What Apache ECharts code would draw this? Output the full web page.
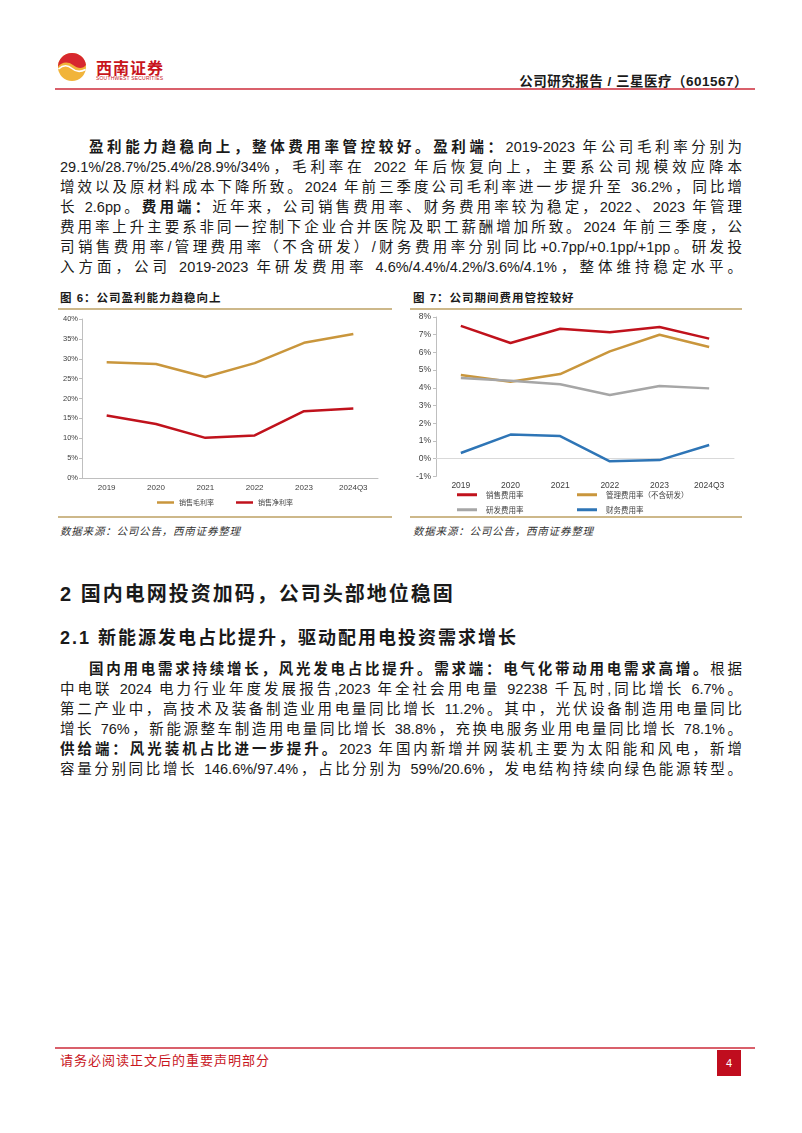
<!DOCTYPE html>
<html>
<head>
<meta charset="utf-8">
<script src="https://cdn.jsdelivr.net/npm/echarts@6/dist/echarts.min.js"></script>
<style>
  html, body { margin: 0; padding: 0; background: #fff; }
  body { width: 802px; height: 1133px; position: relative; overflow: hidden;
         font-family: "Liberation Sans", "Noto Sans CJK SC", sans-serif; color: #1a1a1a; }
  .abs { position: absolute; }
  .rule { position: absolute; height: 2px; background: #d9606b; }
  .tan { position: absolute; height: 1.5px; background: #cdb88a; }
  .para { position: absolute; left: 60px; width: 682px; font-size: 14.5px; line-height: 20px; }
  .para div { text-align: justify; text-align-last: justify; white-space: nowrap; }
  .para .ind { padding-left: 29px; }
  b { font-weight: bold; }
  .cap { font-size: 11.5px; font-weight: bold; letter-spacing: 1px; }
  .src { font-size: 10.5px; font-style: italic; color: #333; letter-spacing: 0.8px; }
  .h1 { font-size: 20px; font-weight: bold; letter-spacing: 2px; }
  .h2 { font-size: 18px; font-weight: bold; letter-spacing: 2px; }
</style>
</head>
<body>

<!-- header -->
<svg class="abs" style="left:57px;top:52px" width="30" height="30" viewBox="0 0 30 30">
  <circle cx="15" cy="15" r="14" fill="#f1b43a"/>
  <path d="M15 1 A14 14 0 0 0 1 15 C4 10 11 9 16 13 C21 17 26 17 29 13 A14 14 0 0 0 15 1 Z" fill="#d7282f"/>
  <path d="M1.5 17 C6 13 11 13 15 16.5 C19 20 24 20 28.6 17.5" stroke="#fff" stroke-width="1.6" fill="none"/>
</svg>
<div class="abs" style="left:96px;top:55px;font-size:16px;font-weight:bold;color:#c8161d;letter-spacing:1px;">西南证券</div>
<div class="abs" style="left:96px;top:75px;font-size:5px;color:#c8161d;letter-spacing:0.2px;">SOUTHWEST SECURITIES</div>
<div class="abs" style="right:54px;top:70px;font-size:13.5px;font-weight:bold;letter-spacing:0.5px;">公司研究报告 / 三星医疗（601567）</div>
<div class="rule" style="left:55px;top:88px;width:700px;"></div>

<!-- paragraph 1 -->
<div class="para" style="top:137px;">
  <div class="ind"><b>盈利能力趋稳向上，整体费用率管控较好。盈利端：</b>2019-2023 年公司毛利率分别为</div>
  <div>29.1%/28.7%/25.4%/28.9%/34%，毛利率在 2022 年后恢复向上，主要系公司规模效应降本</div>
  <div>增效以及原材料成本下降所致。2024 年前三季度公司毛利率进一步提升至 36.2%，同比增</div>
  <div>长 2.6pp。<b>费用端：</b>近年来，公司销售费用率、财务费用率较为稳定，2022、2023 年管理</div>
  <div>费用率上升主要系非同一控制下企业合并医院及职工薪酬增加所致。2024 年前三季度，公</div>
  <div>司销售费用率/管理费用率（不含研发）/财务费用率分别同比+0.7pp/+0.1pp/+1pp。研发投</div>
  <div>入方面，公司 2019-2023 年研发费用率 4.6%/4.4%/4.2%/3.6%/4.1%，整体维持稳定水平。</div>
</div>

<!-- figure captions -->
<div class="abs cap" style="left:60px;top:289px;">图 6：公司盈利能力趋稳向上</div>
<div class="abs cap" style="left:413px;top:289px;">图 7：公司期间费用管控较好</div>
<div class="tan" style="left:58px;top:308px;width:334px;"></div>
<div class="tan" style="left:410px;top:308px;width:332px;"></div>

<div id="chart1" class="abs" style="left:58px;top:311px;width:334px;height:205px;"></div>
<div id="chart2" class="abs" style="left:410px;top:311px;width:332px;height:205px;"></div>

<div class="tan" style="left:58px;top:516px;width:334px;"></div>
<div class="tan" style="left:410px;top:516px;width:332px;"></div>
<div class="abs src" style="left:60px;top:523px;">数据来源：公司公告，西南证券整理</div>
<div class="abs src" style="left:413px;top:523px;">数据来源：公司公告，西南证券整理</div>

<!-- section 2 -->
<div class="abs h1" style="left:60px;top:578px;">2&nbsp;国内电网投资加码，公司头部地位稳固</div>
<div class="abs h2" style="left:60px;top:623px;">2.1&nbsp;新能源发电占比提升，驱动配用电投资需求增长</div>

<div class="para" style="top:659px;">
  <div class="ind"><b>国内用电需求持续增长，风光发电占比提升。需求端：电气化带动用电需求高增。</b>根据</div>
  <div>中电联 2024 电力行业年度发展报告,2023 年全社会用电量 92238 千瓦时,同比增长 6.7%。</div>
  <div>第二产业中，高技术及装备制造业用电量同比增长 11.2%。其中，光伏设备制造用电量同比</div>
  <div>增长 76%，新能源整车制造用电量同比增长 38.8%，充换电服务业用电量同比增长 78.1%。</div>
  <div><b>供给端：风光装机占比进一步提升。</b>2023 年国内新增并网装机主要为太阳能和风电，新增</div>
  <div>容量分别同比增长 146.6%/97.4%，占比分别为 59%/20.6%，发电结构持续向绿色能源转型。</div>
</div>

<!-- footer -->
<div class="rule" style="left:55px;top:1047px;width:700px;"></div>
<div class="abs" style="left:60px;top:1050px;font-size:13px;color:#c8161d;letter-spacing:1px;">请务必阅读正文后的重要声明部分</div>
<div class="abs" style="left:717px;top:1050px;width:24px;height:26px;background:#c00d1e;color:#fff;font-size:11px;line-height:26px;text-align:center;">4</div>

<script>
// 类目
const years = ["2019", "2020", "2021", "2022", "2023", "2024Q3"];

// 图6 盈利能力（%）
const grossMargin = [29.1, 28.7, 25.4, 28.9, 34.0, 36.2];
const netMargin = [15.7, 13.6, 10.1, 10.7, 16.8, 17.5];

// 图7 期间费用率（%）
const salesRate = [7.5, 6.53, 7.34, 7.14, 7.44, 6.78];
const adminRate = [4.73, 4.35, 4.78, 6.06, 7.0, 6.31];
const rndRate = [4.56, 4.4, 4.2, 3.6, 4.1, 3.97];
const finRate = [0.32, 1.36, 1.28, -0.15, -0.08, 0.77];

const cjk = "'Noto Sans CJK SC', sans-serif";
const lat = "'Liberation Sans', Arial, sans-serif";

function lineSeries(name, data, color) {
  return {
    name: name,
    type: "line",
    data: data,
    symbol: "none",
    lineStyle: { color: color, width: 2.5 },
    itemStyle: { color: color },
  };
}

function createChart1() {
  var myChart = echarts.init(document.getElementById("chart1"));
  var option = {
    animation: false,
    grid: { left: 24, top: 8, width: 296, height: 159 },
    xAxis: {
      type: "category",
      data: years,
      axisLine: { lineStyle: { color: "#bfbfbf" } },
      axisTick: { show: false },
      axisLabel: { color: "#404040", fontSize: 8, fontFamily: lat, margin: 6 },
    },
    yAxis: {
      type: "value",
      min: 0,
      max: 40,
      interval: 5,
      axisLine: { show: true, lineStyle: { color: "#bfbfbf" } },
      axisTick: { show: true, length: 3, lineStyle: { color: "#bfbfbf" } },
      splitLine: { show: false },
      axisLabel: { formatter: "{value}%", color: "#404040", fontSize: 7.5, fontFamily: lat, margin: 4 },
    },
    legend: {
      bottom: 5,
      left: "center",
      icon: "rect",
      itemWidth: 17,
      itemHeight: 2.5,
      itemGap: 22,
      textStyle: { fontSize: 7, color: "#404040", fontFamily: cjk },
      data: ["销售毛利率", "销售净利率"],
    },
    series: [
      lineSeries("销售毛利率", grossMargin, "#c9963c"),
      lineSeries("销售净利率", netMargin, "#c0121c"),
    ],
  };
  myChart.setOption(option);
}

function createChart2() {
  var myChart = echarts.init(document.getElementById("chart2"));
  // 图例分两行两列，每项单独定位
  function legendItem(name, left, top) {
    return {
      left: left,
      top: top,
      icon: "rect",
      itemWidth: 20,
      itemHeight: 3,
      itemGap: 10,
      textStyle: { fontSize: 7.5, color: "#404040", fontFamily: cjk, padding: [0, 0, 0, 4] },
      data: [name],
    };
  }
  var option = {
    animation: false,
    grid: { left: 26, top: 6, width: 298, height: 159.4 },
    xAxis: {
      type: "category",
      data: years,
      axisLine: { onZero: true, lineStyle: { color: "#d9d9d9" } },
      axisTick: { show: false },
      axisLabel: { color: "#404040", fontSize: 8.5, fontFamily: lat, margin: 5 },
    },
    yAxis: {
      type: "value",
      min: -1,
      max: 8,
      interval: 1,
      axisLine: { show: true, lineStyle: { color: "#bfbfbf" } },
      axisTick: { show: true, length: 3, lineStyle: { color: "#bfbfbf" } },
      splitLine: { show: false },
      axisLabel: { formatter: "{value}%", color: "#404040", fontSize: 8.5, fontFamily: lat, margin: 5 },
    },
    legend: [
      legendItem("销售费用率", 42, 175),
      legendItem("研发费用率", 42, 190),
      legendItem("管理费用率（不含研发）", 162, 175),
      legendItem("财务费用率", 162, 190),
    ],
    series: [
      lineSeries("销售费用率", salesRate, "#c0121c"),
      lineSeries("管理费用率（不含研发）", adminRate, "#c9963c"),
      lineSeries("研发费用率", rndRate, "#a6a6a6"),
      lineSeries("财务费用率", finRate, "#2e75b6"),
    ],
  };
  myChart.setOption(option);
}

createChart1();
createChart2();
</script>
</body>
</html>
